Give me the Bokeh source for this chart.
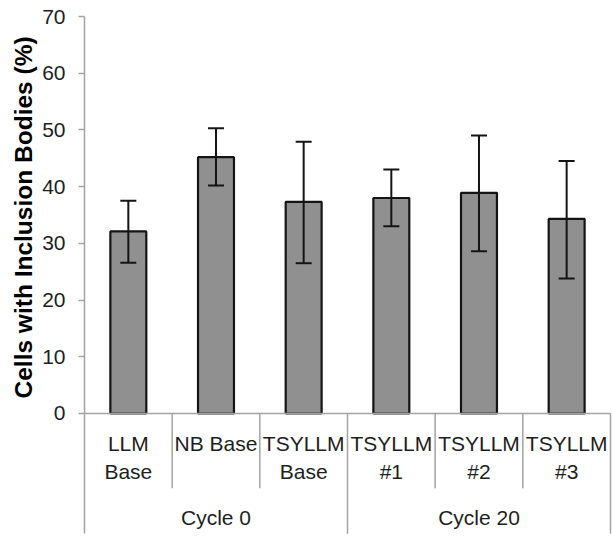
from bokeh.plotting import figure
from bokeh.models import Range1d, FixedTicker, ColumnDataSource, Whisker, TeeHead, Title
from bokeh.core.properties import value
from bokeh.embed import file_html
from bokeh.resources import INLINE

# ---- data ----
cat_line1 = ["LLM", "NB Base", "TSYLLM", "TSYLLM", "TSYLLM", "TSYLLM"]
cat_line2 = ["Base", "", "Base", "#1", "#2", "#3"]
groups = ["Cycle 0", "Cycle 20"]
group_sizes = [3, 3]
means = [32.1, 45.2, 37.3, 38.0, 38.9, 34.3]
err_upper = [37.5, 50.3, 47.9, 43.0, 49.0, 44.5]
err_lower = [26.6, 40.2, 26.5, 33.0, 28.6, 23.8]
y_ticks = [0, 10, 20, 30, 40, 50, 60, 70]
y_label = "Cells with Inclusion Bodies (%)"

FONT = "Liberation Sans"
AX = "#a3a3a3"
TXT = "#1e1e1e"
DARK = "#141414"

n = len(means)
xc = [i + 0.5 for i in range(n)]

LINE1_Y = -5.38
LINE2_Y = -10.23
GROUP_Y = -18.34
SEP_SHORT = -13.2
SEP_LONG = -21.2

p = figure(width=612, height=539, output_backend="svg", toolbar_location=None,
           x_range=Range1d(0, 6.023), y_range=Range1d(-22.22, 70),
           x_axis_type=None,
           min_border_left=84, min_border_right=0, min_border_top=16, min_border_bottom=0)
p.grid.visible = False
p.outline_line_color = None
p.background_fill_color = "white"
p.border_fill_color = "white"

ax = p.yaxis[0]
ax.ticker = FixedTicker(ticks=y_ticks)
ax.bounds = (SEP_LONG, 70)
ax.axis_line_color = AX
ax.axis_line_width = 1.5
ax.major_tick_line_color = AX
ax.major_tick_line_width = 1.5
ax.major_tick_out = 6
ax.major_tick_in = 0
ax.minor_tick_line_color = None
ax.major_label_standoff = 13
ax.major_label_text_font = FONT
ax.major_label_text_font_size = "21px"
ax.major_label_text_color = TXT

src = ColumnDataSource(dict(x=xc, top=means, upper=err_upper, lower=err_lower))

p.vbar(x="x", top="top", bottom=0, width=0.41, source=src,
       fill_color="#909090", line_color=DARK, line_width=2.2)

wh = Whisker(source=src, base="x", upper="upper", lower="lower",
             line_color=DARK, line_width=2, level="annotation",
             upper_head=TeeHead(size=16, line_color=DARK, line_width=2),
             lower_head=TeeHead(size=16, line_color=DARK, line_width=2))
p.add_layout(wh)

# baseline
p.segment(x0=[0], y0=[0], x1=[n], y1=[0], line_color=AX, line_width=1.5)

# separators
bounds = [0]
for s in group_sizes:
    bounds.append(bounds[-1] + s)
sx, sy0, sy1 = [], [], []
for i in range(1, n + 1):
    sx.append(i)
    sy0.append(0)
    sy1.append(SEP_LONG if i in bounds else SEP_SHORT)
p.segment(x0=sx, y0=sy0, x1=sx, y1=sy1, line_color=AX, line_width=1.5)

# category labels
p.text(x=xc, y=[LINE1_Y] * n, text=cat_line1, text_font=value(FONT),
       text_font_size="21px", text_align="center", text_baseline="middle", text_color=TXT)
p.text(x=xc, y=[LINE2_Y] * n, text=cat_line2, text_font=value(FONT),
       text_font_size="21px", text_align="center", text_baseline="middle", text_color=TXT)
gx = [(bounds[i] + bounds[i + 1]) / 2 for i in range(len(groups))]
p.text(x=gx, y=[GROUP_Y] * len(groups), text=groups, text_font=value(FONT),
       text_font_size="21px", text_align="center", text_baseline="middle", text_color=TXT)

ttl = Title(text=y_label, align="left", offset=141, standoff=6,
            text_font=FONT, text_font_size="24.5px", text_font_style="bold",
            text_color="#000000")
p.add_layout(ttl, "left")

open("out.html", "w").write(file_html(p, INLINE))
